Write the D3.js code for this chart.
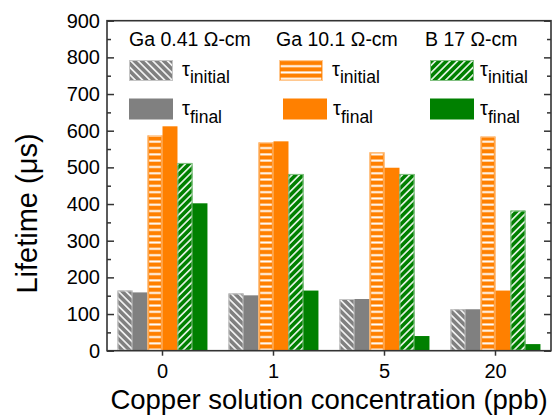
<!DOCTYPE html>
<html>
<head>
<meta charset="utf-8">
<script src="https://cdn.jsdelivr.net/npm/d3@7/dist/d3.min.js"></script>
<style>
  html, body { margin: 0; padding: 0; background: #fff; }
  svg { display: block; }
  text { font-family: "Liberation Sans", Arial, Helvetica, sans-serif; fill: #000; }
</style>
</head>
<body>
<div id="chart"></div>
<script>
// Copper contamination study: minority-carrier lifetime before/after copper dip
const categories = ["0", "1", "5", "20"];
const gaLowInitial  = [164, 156, 141, 113];
const gaLowFinal    = [159, 151, 141, 113];
const gaHighInitial = [587, 568, 541, 584];
const gaHighFinal   = [612, 571, 499, 164];
const bInitial      = [512, 482, 482, 382];
const bFinal        = [402, 164, 40, 18];
const yTicks = [0, 100, 200, 300, 400, 500, 600, 700, 800, 900];
const yMinorTicks = [50, 150, 250, 350, 450, 550, 650, 750, 850];
const groupLabels = ["Ga 0.41 \u03A9-cm", "Ga 10.1 \u03A9-cm", "B 17 \u03A9-cm"];

const series = [
  { key: "gaLowInitial",  values: gaLowInitial,  color: "#808080", edge: "#c4c4c4", hatch: "back"  },
  { key: "gaLowFinal",    values: gaLowFinal,    color: "#808080", edge: null,      hatch: null    },
  { key: "gaHighInitial", values: gaHighInitial, color: "#ff8000", edge: "#ffc890", hatch: "horiz" },
  { key: "gaHighFinal",   values: gaHighFinal,   color: "#ff8000", edge: null,      hatch: null    },
  { key: "bInitial",      values: bInitial,      color: "#008000", edge: "#80c080", hatch: "fwd"   },
  { key: "bFinal",        values: bFinal,        color: "#008000", edge: null,      hatch: null    }
];

const W = 559, H = 417;
const margin = { left: 107, right: 8, top: 20.7, bottom: 66.3 };
const x0 = margin.left, x1 = W - margin.right;
const y0 = H - margin.bottom, y1 = margin.top;

const svg = d3.select("#chart").append("svg").attr("width", W).attr("height", H);
const defs = svg.append("defs");

// white hatch overlays
function hatchPattern(id, rotate, size, sw) {
  const p = defs.append("pattern")
    .attr("id", id).attr("patternUnits", "userSpaceOnUse")
    .attr("width", size).attr("height", size);
  if (rotate !== null) p.attr("patternTransform", `rotate(${rotate})`);
  p.append("rect").attr("x", 0).attr("y", size / 2 - sw / 2)
    .attr("width", size).attr("height", sw).attr("fill", "#fff");
}
hatchPattern("hatch-back", 45, 5.2, 1.5);
hatchPattern("hatch-fwd", -45, 5.2, 1.5);
hatchPattern("hatch-horiz", null, 6.3, 2);

const xScale = d3.scaleBand().domain(categories).range([x0, x1])
  .paddingInner(0.19).paddingOuter(0.095);
const xSub = d3.scaleBand().domain(series.map(s => s.key)).range([0, xScale.bandwidth()]);
const yScale = d3.scaleLinear().domain([0, 900]).range([y0, y1]);

function drawHatched(g, x, y, w, h, s) {
  g.append("rect").attr("x", x).attr("y", y).attr("width", w).attr("height", h)
    .attr("fill", s.color);
  if (s.hatch) {
    const inset = s.hatch === "horiz" ? 1.7 : 0;
    g.append("rect").attr("x", x + inset).attr("y", y).attr("width", Math.max(0, w - 2 * inset)).attr("height", h)
      .attr("fill", `url(#hatch-${s.hatch})`);
    g.append("rect").attr("x", x + 0.5).attr("y", y + 0.5).attr("width", w - 1).attr("height", h - 1)
      .attr("fill", "none").attr("stroke", s.edge).attr("stroke-width", 1);
  }
}

// bars
const barsG = svg.append("g");
categories.forEach((c, i) => {
  series.forEach(s => {
    const v = s.values[i];
    const bx = xScale(c) + xSub(s.key);
    drawHatched(barsG, bx, yScale(v), xSub.bandwidth(), y0 - yScale(v), s);
  });
});

// axes
const axisColor = "#333";
const yAxis = svg.append("g").attr("transform", `translate(${x0},0)`)
  .call(d3.axisLeft(yScale).tickValues(yTicks).tickSizeInner(-7).tickSizeOuter(0).tickPadding(7));
svg.append("g").attr("transform", `translate(${x0},0)`)
  .call(d3.axisLeft(yScale).tickValues(yMinorTicks).tickSizeInner(-4).tickSizeOuter(0).tickFormat(""));
svg.append("g").attr("transform", `translate(${x1},0)`)
  .call(d3.axisRight(yScale).tickValues(yTicks).tickSizeInner(-7).tickSizeOuter(0).tickFormat(""));
svg.append("g").attr("transform", `translate(${x1},0)`)
  .call(d3.axisRight(yScale).tickValues(yMinorTicks).tickSizeInner(-4).tickSizeOuter(0).tickFormat(""));
const xAxis = svg.append("g").attr("transform", `translate(0,${y0})`)
  .call(d3.axisBottom(xScale).tickSizeInner(5).tickSizeOuter(0).tickPadding(8));

svg.selectAll(".domain").remove();
svg.selectAll(".tick line").attr("stroke", axisColor).attr("stroke-width", 1.5);
svg.selectAll(".tick text").style("font-size", "20px").attr("fill", "#000")
  .style("font-family", "'Liberation Sans', Arial, sans-serif");

// frame
svg.append("rect").attr("x", x0).attr("y", y1).attr("width", x1 - x0).attr("height", y0 - y1)
  .attr("fill", "none").attr("stroke", axisColor).attr("stroke-width", 1.6);

// axis titles
svg.append("text").attr("x", 329).attr("y", 409).attr("text-anchor", "middle")
  .style("font-size", "27.5px").text("Copper solution concentration (ppb)");
svg.append("text").attr("transform", "translate(37,213.5) rotate(-90)").attr("text-anchor", "middle")
  .style("font-size", "29px").text("Lifetime (\u03BCs)");

// legend
const legendCols = [
  { head: 129, swI: 129, swF: 129, txtI: 182, txtF: 182 },
  { head: 276, swI: 279, swF: 283, txtI: 332, txtF: 333 },
  { head: 425, swI: 430, swF: 430, txtI: 480, txtF: 480 }
];
const legendG = svg.append("g");
legendCols.forEach((col, k) => {
  legendG.append("text").attr("x", col.head).attr("y", 45.5)
    .style("font-size", "19.5px").text(groupLabels[k]);
  const sI = series[2 * k], sF = series[2 * k + 1];
  drawHatched(legendG, col.swI, 60, 44, 21, sI);
  drawHatched(legendG, col.swF, 98.5, 44, 21, sF);
  const tI = legendG.append("text").attr("x", col.txtI).attr("y", 76).style("font-size", "20px");
  tI.append("tspan").text("\u03C4");
  tI.append("tspan").attr("dy", 7).style("font-size", "17.5px").text("initial");
  const tF = legendG.append("text").attr("x", col.txtF).attr("y", 115).style("font-size", "20px");
  tF.append("tspan").text("\u03C4");
  tF.append("tspan").attr("dy", 7.5).style("font-size", "17.5px").text("final");
});
</script>
</body>
</html>
